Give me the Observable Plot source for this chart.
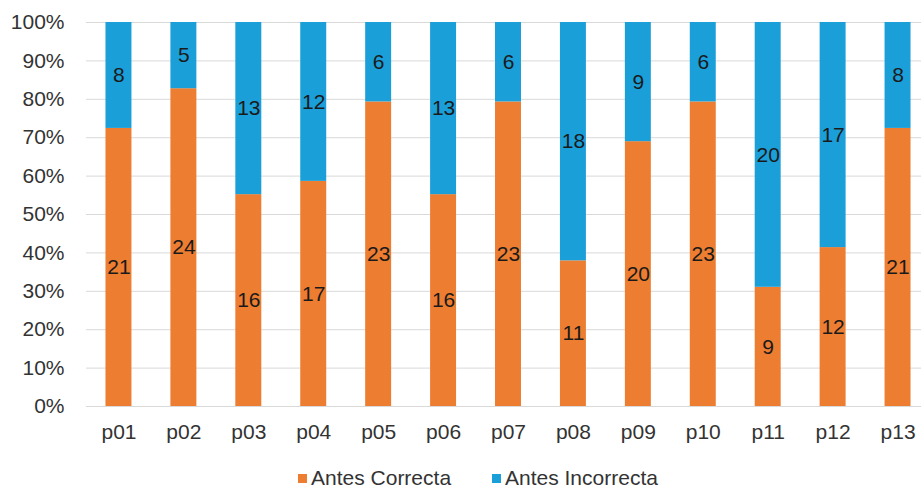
<!DOCTYPE html>
<html>
<head>
<meta charset="utf-8">
<script src="https://cdn.jsdelivr.net/npm/d3@7"></script>
<script src="https://cdn.jsdelivr.net/npm/@observablehq/plot@0.6"></script>
<style>
  body { margin: 0; background: #fff; font-family: "Liberation Sans", Arial, sans-serif; }
  #chart { width: 921px; }
  #chart svg { display: block; }
  .legend { position: relative; width: 921px; height: 28px; margin-top: 6px; font-size: 21px; color: #333; }
  .legend .item { position: absolute; top: 0; display: flex; align-items: center; white-space: nowrap; line-height: 24px; }
  .legend span.sw { display: inline-block; width: 9px; height: 9px; margin-right: 4px; }
</style>
</head>
<body>
<div id="chart"></div>
<script>
const categories = ["p01","p02","p03","p04","p05","p06","p07","p08","p09","p10","p11","p12","p13"];
const correcta   = [21,24,16,17,23,16,23,11,20,23,9,12,21];
const incorrecta = [8,5,13,12,6,13,6,18,9,6,20,17,8];
const seriesNames = ["Antes Correcta","Antes Incorrecta"];
const colors = ["#ED7D31","#1B9FD9"];
const yTicks = [0,0.1,0.2,0.3,0.4,0.5,0.6,0.7,0.8,0.9,1];

const data = [];
categories.forEach((c,i) => {
  data.push({cat: c, series: seriesNames[0], v: correcta[i]});
  data.push({cat: c, series: seriesNames[1], v: incorrecta[i]});
});

const plot = Plot.plot({
  width: 921,
  height: 460,
  marginTop: 22,
  marginBottom: 54,
  marginLeft: 86,
  marginRight: 0,
  style: { fontFamily: "Liberation Sans, Arial, sans-serif", fontSize: "21px", color: "#333", background: "#fff" },
  x: { domain: categories, range: [86, 930], round: false, paddingInner: 0.6, paddingOuter: 0.3, label: null, tickSize: 0, tickPadding: 18 },
  y: { domain: [0,1], ticks: yTicks, tickFormat: d => Math.round(d*100) + "%", label: null, tickSize: 0, tickPadding: 22 },
  color: { domain: seriesNames, range: colors },
  marks: [
    Plot.ruleY(yTicks, { stroke: "#d9d9d9", strokeWidth: 1 }),
    Plot.barY(data, Plot.stackY({ x: "cat", y: "v", z: "series", fill: "series", offset: "normalize", order: null })),
    Plot.text(data, Plot.stackY({ x: "cat", y: "v", z: "series", offset: "normalize", order: null, text: "v", fill: "#1a1a1a", fontSize: 21 }))
  ]
});
document.getElementById("chart").appendChild(plot);

const legend = document.createElement("div");
legend.className = "legend";
const lefts = [298, 492];
seriesNames.forEach((s,i) => {
  const d = document.createElement("div");
  d.className = "item";
  d.style.left = lefts[i] + "px";
  d.innerHTML = `<span class="sw" style="background:${colors[i]}"></span>${s}`;
  legend.appendChild(d);
});
document.getElementById("chart").appendChild(legend);
</script>
</body>
</html>
